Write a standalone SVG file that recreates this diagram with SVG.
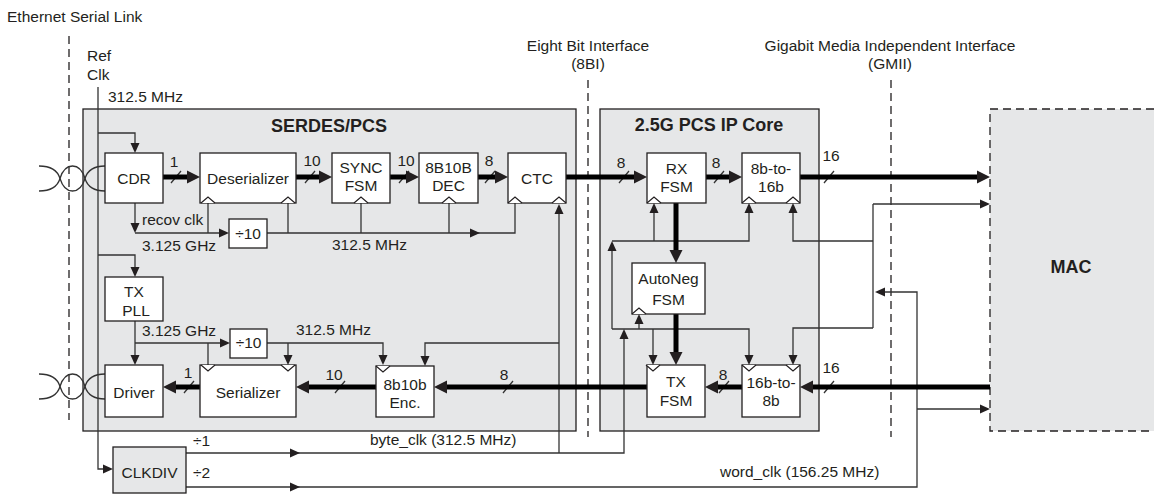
<svg xmlns="http://www.w3.org/2000/svg" xmlns:xlink="http://www.w3.org/1999/xlink" width="1154" height="494" viewBox="0 0 1154 494">
<style>
text{font-family:"Liberation Sans",Arial,sans-serif;font-size:15.5px;fill:#231f20}
.m{text-anchor:middle}
.b{font-weight:bold;font-size:18px}
.box{fill:#fff;stroke:#231f20;stroke-width:1.3}
.grp{fill:#e6e7e8;stroke:#231f20;stroke-width:1.3}
.w{fill:none;stroke:#333;stroke-width:1.3}
.bus{fill:none;stroke:#000;stroke-width:5}
.dash{fill:none;stroke:#231f20;stroke-width:1.3;stroke-dasharray:8 5}
.ck{fill:#fff;stroke:#231f20;stroke-width:1.2}
.ah{fill:#231f20}
</style>
<defs>
<path id="ah" d="M0,0 L-10,-4.5 L-10,4.5 Z"/>
<path id="AH" d="M0,0 L-13,-6.5 L-13,6.5 Z"/>
<path id="cu" d="M-7,0 L0,-6 L7,0"/>
<path id="cd" d="M-7,0 L0,6 L7,0"/>
</defs>

<!-- group backgrounds -->
<g id="serdes">
<rect class="grp" x="83" y="109" width="493" height="322"/>
<text class="m b" x="329" y="132">SERDES/PCS</text>
</g>
<g id="pcscore">
<rect class="grp" x="600" y="109" width="219" height="322"/>
<text class="m b" x="709" y="131">2.5G PCS IP Core</text>
</g>
<g id="mac">
<rect x="990" y="109" width="164" height="322" fill="#e6e7e8"/>
<path class="dash" d="M1154,109 H990 V431 H1154"/>
<text class="m b" x="1071" y="273">MAC</text>
</g>

<!-- interface lines & labels -->
<g id="interfaces">
<path class="dash" d="M69,36 V420"/>
<path class="dash" d="M588,80 V437"/>
<path class="dash" d="M891,80 V437"/>
<text x="7" y="22">Ethernet Serial Link</text>
<text class="m" x="588" y="51">Eight Bit Interface</text>
<text class="m" x="588" y="69">(8BI)</text>
<text class="m" x="890" y="51">Gigabit Media Independent Interface</text>
<text class="m" x="890" y="69">(GMII)</text>
</g>

<!-- twisted pairs -->
<g id="pairs" class="w">
<path d="M39,166 C53,166 58,172 60,178.5 C62,185 66,191 72.5,191 C79,191 83,185 85,178.5 C87,172 93,166 105,166"/>
<path d="M39,191 C53,191 58,185 60,178.5 C62,172 66,166 72.5,166 C79,166 83,172 85,178.5 C87,185 93,191 105,191"/>
<path d="M39,374 C53,374 58,380 60,386.5 C62,393 66,399 72.5,399 C79,399 83,393 85,386.5 C87,380 93,374 105,374"/>
<path d="M39,399 C53,399 58,393 60,386.5 C62,380 66,374 72.5,374 C79,374 83,380 85,386.5 C87,393 93,399 105,399"/>
</g>

<!-- connectors -->
<g id="connectors">
<g class="w">
<!-- ref clk -->
<path d="M98,87 V469 H104"/>
<path d="M98,133 H135 V144"/>
<path d="M98,255 H135 V268"/>
<!-- recovered clock -->
<path d="M135,203 V224"/>
<path d="M135,233 H220"/>
<path d="M208,233 V203"/>
<path d="M267,233 H515 V203"/>
<path d="M288,233 V203"/>
<path d="M361,233 V203"/>
<path d="M449,233 V203"/>
<!-- tx clock -->
<path d="M135,321 V356"/>
<path d="M135,343 H221"/>
<path d="M208,343 V365"/>
<path d="M267,343 H383 V356"/>
<path d="M288,343 V356"/>
<!-- byte clk -->
<path d="M186,453 H624 V339"/>
<path d="M559,453 V214"/>
<path d="M559,343 H425 V357"/>
<path d="M612,329 V251"/>
<path d="M612,241 H749 V212"/>
<path d="M654,241 V212"/>
<path d="M612,329 H749 V356"/>
<path d="M639,329 V323"/>
<path d="M653,329 V356"/>
<!-- word clk -->
<path d="M186,487 H917 V292 H885"/>
<path d="M917,409 H980"/>
<path d="M873,204 V328"/>
<path d="M873,204 H980"/>
<path d="M873,241 H793 V212"/>
<path d="M873,328 H793 V356"/>
<!-- bus slashes -->
<path d="M171,183 L181,171 M305,183 L315,171 M399,183 L409,171 M485,183 L495,171 M619,183 L629,171 M714,183 L724,171 M824,183 L834,171"/>
<path d="M824,393 L834,381 M719,393 L729,381 M503,393 L513,381 M335,393 L345,381 M184,393 L194,381"/>
</g>
<g class="bus">
<path d="M163,177 H189"/>
<path d="M296,177 H321"/>
<path d="M390,177 H408"/>
<path d="M478,177 H497"/>
<path d="M566,177 H636"/>
<path d="M706,177 H731"/>
<path d="M800,177 H979"/>
<path d="M990,387 H811"/>
<path d="M742,387 H716"/>
<path d="M647,387 H445"/>
<path d="M376,387 H307"/>
<path d="M200,387 H174"/>
<path d="M676,203 V252"/>
<path d="M676,314 V354"/>
</g>
<g class="ah">
<use href="#AH" transform="translate(200,177)"/>
<use href="#AH" transform="translate(332,177)"/>
<use href="#AH" transform="translate(419,177)"/>
<use href="#AH" transform="translate(508,177)"/>
<use href="#AH" transform="translate(647,177)"/>
<use href="#AH" transform="translate(742,177)"/>
<use href="#AH" transform="translate(990,177)"/>
<use href="#AH" transform="translate(800,387) rotate(180)"/>
<use href="#AH" transform="translate(705,387) rotate(180)"/>
<use href="#AH" transform="translate(434,387) rotate(180)"/>
<use href="#AH" transform="translate(296,387) rotate(180)"/>
<use href="#AH" transform="translate(163,387) rotate(180)"/>
<use href="#AH" transform="translate(676,263) rotate(90)"/>
<use href="#AH" transform="translate(676,365) rotate(90)"/>
<use href="#ah" transform="translate(113,469)"/>
<use href="#ah" transform="translate(135,153) rotate(90)"/>
<use href="#ah" transform="translate(135,277) rotate(90)"/>
<use href="#ah" transform="translate(135,233) rotate(90)"/>
<use href="#ah" transform="translate(229,233)"/>
<use href="#ah" transform="translate(480,233)"/>
<use href="#ah" transform="translate(135,365) rotate(90)"/>
<use href="#ah" transform="translate(230,343)"/>
<use href="#ah" transform="translate(288,365) rotate(90)"/>
<use href="#ah" transform="translate(383,365) rotate(90)"/>
<use href="#ah" transform="translate(425,366) rotate(90)"/>
<use href="#ah" transform="translate(300,453)"/>
<use href="#ah" transform="translate(300,487)"/>
<use href="#ah" transform="translate(559,204) rotate(-90)"/>
<use href="#ah" transform="translate(624,329) rotate(-90)"/>
<use href="#ah" transform="translate(612,241) rotate(-90)"/>
<use href="#ah" transform="translate(654,203) rotate(-90)"/>
<use href="#ah" transform="translate(749,203) rotate(-90)"/>
<use href="#ah" transform="translate(793,203) rotate(-90)"/>
<use href="#ah" transform="translate(639,314) rotate(-90)"/>
<use href="#ah" transform="translate(653,365) rotate(90)"/>
<use href="#ah" transform="translate(749,365) rotate(90)"/>
<use href="#ah" transform="translate(793,365) rotate(90)"/>
<use href="#ah" transform="translate(990,204)"/>
<use href="#ah" transform="translate(990,409)"/>
<use href="#ah" transform="translate(875,292) rotate(180)"/>
</g>
<!-- connector labels -->
<g>
<text x="108" y="102">312.5 MHz</text>
<text x="87" y="61">Ref</text>
<text x="87" y="80">Clk</text>
<text x="142" y="225">recov clk</text>
<text x="142" y="251">3.125 GHz</text>
<text x="142" y="336">3.125 GHz</text>
<text x="332" y="250">312.5 MHz</text>
<text x="296" y="335">312.5 MHz</text>
<text x="193" y="446">÷1</text>
<text x="193" y="478">÷2</text>
<text x="370" y="445">byte_clk (312.5 MHz)</text>
<text x="720" y="477">word_clk (156.25 MHz)</text>
<text class="m" x="174" y="167">1</text>
<text class="m" x="312" y="166">10</text>
<text class="m" x="406" y="166">10</text>
<text class="m" x="489" y="166">8</text>
<text class="m" x="621" y="168">8</text>
<text class="m" x="716" y="168">8</text>
<text class="m" x="831" y="161">16</text>
<text class="m" x="831" y="373">16</text>
<text class="m" x="723" y="380">8</text>
<text class="m" x="504" y="380">8</text>
<text class="m" x="334" y="380">10</text>
<text class="m" x="188" y="378">1</text>
</g>
</g>

<!-- nodes -->
<g id="cdr"><rect class="box" x="105" y="153" width="58" height="50"/><text class="m" x="134" y="184">CDR</text></g>
<g id="deserializer"><rect class="box" x="200" y="153" width="96" height="50"/><use class="ck" href="#cu" x="208" y="203"/><use class="ck" href="#cu" x="288" y="203"/><text class="m" x="248" y="184">Deserializer</text></g>
<g id="syncfsm"><rect class="box" x="332" y="153" width="58" height="50"/><use class="ck" href="#cu" x="361" y="203"/><text class="m" x="361" y="173">SYNC</text><text class="m" x="361" y="191">FSM</text></g>
<g id="dec"><rect class="box" x="419" y="153" width="59" height="50"/><use class="ck" href="#cu" x="449" y="203"/><text class="m" x="448.5" y="173">8B10B</text><text class="m" x="448.5" y="191">DEC</text></g>
<g id="ctc"><rect class="box" x="508" y="153" width="58" height="50"/><use class="ck" href="#cu" x="515" y="203"/><use class="ck" href="#cu" x="559" y="203"/><text class="m" x="537" y="184">CTC</text></g>
<g id="div10rx"><rect class="box" x="229" y="219" width="38" height="29"/><text class="m" x="248" y="239">÷10</text></g>
<g id="txpll"><rect class="box" x="105" y="277" width="58" height="44"/><text class="m" x="134" y="297">TX</text><text class="m" x="136" y="316">PLL</text></g>
<g id="div10tx"><rect class="box" x="230" y="329" width="37" height="29"/><text class="m" x="248.5" y="348">÷10</text></g>
<g id="driver"><rect class="box" x="105" y="365" width="58" height="52"/><text class="m" x="134" y="398">Driver</text></g>
<g id="serializer"><rect class="box" x="200" y="365" width="96" height="52"/><use class="ck" href="#cd" x="208" y="365"/><use class="ck" href="#cd" x="288" y="365"/><text class="m" x="248" y="398">Serializer</text></g>
<g id="enc"><rect class="box" x="376" y="366" width="58" height="51"/><use class="ck" href="#cd" x="383" y="366"/><text class="m" x="405" y="390">8b10b</text><text class="m" x="405" y="408">Enc.</text></g>
<g id="rxfsm"><rect class="box" x="647" y="153" width="59" height="50"/><use class="ck" href="#cu" x="654" y="203"/><text class="m" x="676.5" y="174">RX</text><text class="m" x="676.5" y="192">FSM</text></g>
<g id="b8to16"><rect class="box" x="742" y="153" width="58" height="50"/><use class="ck" href="#cu" x="749" y="203"/><use class="ck" href="#cu" x="793" y="203"/><text class="m" x="771" y="174">8b-to-</text><text class="m" x="771" y="192">16b</text></g>
<g id="autoneg"><rect class="box" x="632" y="263" width="73" height="51"/><use class="ck" href="#cu" x="639" y="314"/><text class="m" x="668.5" y="284">AutoNeg</text><text class="m" x="668.5" y="305">FSM</text></g>
<g id="txfsm"><rect class="box" x="647" y="365" width="58" height="52"/><use class="ck" href="#cd" x="653" y="365"/><text class="m" x="676" y="387">TX</text><text class="m" x="676" y="406">FSM</text></g>
<g id="b16to8"><rect class="box" x="742" y="365" width="58" height="52"/><use class="ck" href="#cd" x="749" y="365"/><use class="ck" href="#cd" x="793" y="365"/><text class="m" x="771" y="388">16b-to-</text><text class="m" x="771" y="406">8b</text></g>
<g id="clkdiv"><rect class="grp" x="113" y="447" width="73" height="46"/><text class="m" x="149.5" y="478">CLKDIV</text></g>
</svg>
